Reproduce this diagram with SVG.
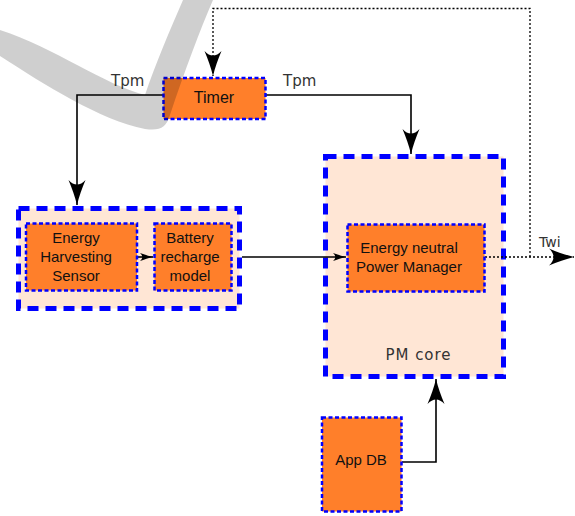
<svg xmlns="http://www.w3.org/2000/svg" width="575" height="516" viewBox="0 0 575 516">
<style>
.bg{fill:#ffffff}
.cont{fill:#ffe6d5;stroke:#0000ff;stroke-width:5;stroke-dasharray:11,7}
.box{fill:#ff7f2a;stroke:#0000ff;stroke-width:2.5;stroke-dasharray:4,2.5}
.lbl{font-family:"Liberation Sans",Arial,sans-serif;font-size:15px;fill:#111;text-anchor:middle}
.sig{font-family:"DejaVu Sans",sans-serif;font-size:15px;fill:#333}
.wire{fill:none;stroke:#000;stroke-width:1.6}
.dot{fill:none;stroke:#000;stroke-width:1.3;stroke-dasharray:2,2}
</style>
<defs>
<marker id="big" markerUnits="userSpaceOnUse" markerWidth="30" markerHeight="20" viewBox="-26 -10 28 20" refX="0" refY="0" orient="auto">
<path d="M0,0 C-8,-2 -17,-5 -25,-8.5 C-19,-3 -19,3 -25,8.5 C-17,5 -8,2 0,0 Z" fill="#000"/>
</marker>
<marker id="small" markerUnits="userSpaceOnUse" markerWidth="16" markerHeight="10" viewBox="-14 -5 16 10" refX="0" refY="0" orient="auto">
<path d="M0,0 C-4,-1 -9,-2.5 -13,-4 C-10,-1.5 -10,1.5 -13,4 C-9,2.5 -4,1 0,0 Z" fill="#000"/>
</marker>
</defs>
<rect class="bg" x="0" y="0" width="575" height="516"/>

<g id="left-container">
<rect class="cont" x="18.5" y="208.5" width="221" height="100"/>
</g>
<g id="pm-core">
<rect class="cont" x="325.5" y="156.5" width="178" height="220"/>
<text class="sig" x="418" y="360" text-anchor="middle" textLength="65">PM core</text>
</g>

<g id="connectors">
<polyline class="wire" points="163,95 77,95 77,205" marker-end="url(#big)"/>
<polyline class="wire" points="266,95 411,95 411,154" marker-end="url(#big)"/>
<line class="wire" x1="137" y1="257" x2="153" y2="257" marker-end="url(#small)"/>
<line class="wire" x1="242" y1="257" x2="346" y2="257" marker-end="url(#small)"/>
<polyline class="wire" points="402,462 436,462 436,379" marker-end="url(#big)"/>
<polyline class="dot" points="530,257 530,8.5 213,8.5 213,76" marker-end="url(#big)"/>
<line class="dot" x1="485" y1="257" x2="574" y2="257" marker-end="url(#big)"/>
</g>

<g id="timer">
<rect class="box" x="163.5" y="78" width="102" height="41"/>
<text class="lbl" x="214" y="103" style="font-size:16px">Timer</text>
</g>
<g id="ehs">
<rect class="box" x="26" y="223.5" width="111" height="67"/>
<text class="lbl" x="76" y="243">Energy</text>
<text class="lbl" x="76" y="262">Harvesting</text>
<text class="lbl" x="76" y="281">Sensor</text>
</g>
<g id="battery">
<rect class="box" x="154.5" y="223.5" width="77" height="67"/>
<text class="lbl" x="190" y="243">Battery</text>
<text class="lbl" x="190" y="262">recharge</text>
<text class="lbl" x="190" y="281">model</text>
</g>
<g id="enpm">
<rect class="box" x="347.5" y="224.5" width="137" height="67"/>
<text class="lbl" x="409" y="253">Energy neutral</text>
<text class="lbl" x="409" y="272">Power Manager</text>
</g>
<g id="appdb">
<rect class="box" x="322" y="417.5" width="79.5" height="94"/>
<text class="lbl" x="361" y="465">App DB</text>
</g>

<g id="labels">
<text class="sig" x="111" y="86">Tpm</text>
<text class="sig" x="283" y="86">Tpm</text>
<text class="sig" x="539" y="247" style="font-size:14px">Twi</text>
</g>

<path d="M0,30 C55,48 105,85 145,95 C155,65 170,30 183,0 L213,0 C200,30 185,70 170,115 C166,128 160,131 145,129 C100,120 45,85 0,56 Z" fill="#000" fill-opacity="0.19"/>
</svg>
